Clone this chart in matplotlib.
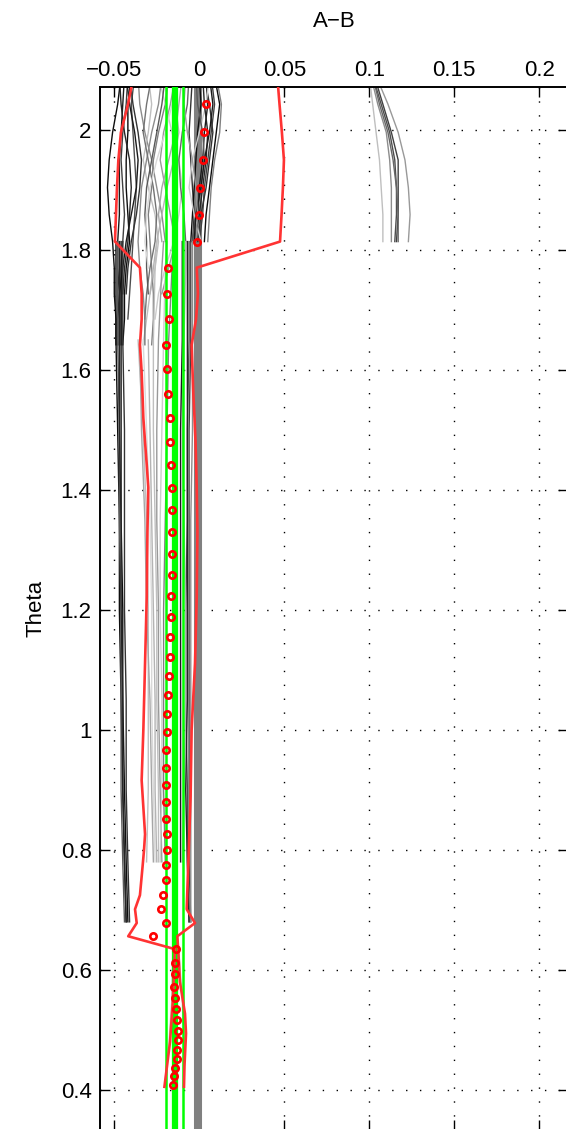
import numpy as np
import matplotlib.pyplot as plt

plt.rcParams["font.family"] = ["Liberation Sans", "DejaVu Sans"]

# red circles, three theta ranges
dot_theta_top = [2.043, 1.996, 1.950, 1.904, 1.859, 1.814]
dot_x_top = [0.0038, 0.0026, 0.0022, 0.0006, -0.0004, -0.0012]

dot_theta_mid = [1.7705, 1.727, 1.6845, 1.642, 1.601, 1.560, 1.520, 1.480, 1.442, 1.404,
                 1.367, 1.330, 1.2933, 1.2583, 1.2228, 1.1883, 1.1545, 1.1217, 1.0895, 1.0578,
                 1.0262, 0.996, 0.966, 0.937, 0.908, 0.880, 0.852, 0.826, 0.800, 0.774,
                 0.7495, 0.7245, 0.701, 0.678, 0.656]
dot_x_mid = [-0.0182, -0.0190, -0.0178, -0.0198, -0.0188, -0.0182, -0.0174, -0.0172, -0.0168, -0.0159,
             -0.0159, -0.0161, -0.0161, -0.0162, -0.0167, -0.0168, -0.0171, -0.0174, -0.0178, -0.0182,
             -0.0188, -0.0190, -0.0194, -0.0196, -0.0196, -0.0196, -0.0194, -0.0192, -0.0188, -0.0198,
             -0.0196, -0.0212, -0.0227, -0.0198, -0.0274]

dot_theta_low = [0.6345, 0.6122, 0.5928, 0.5722, 0.5528, 0.5345, 0.5167, 0.4988, 0.4822, 0.4662,
                 0.4512, 0.4362, 0.4222, 0.4083]
dot_x_low = [-0.0139, -0.0143, -0.0145, -0.0147, -0.0141, -0.0135, -0.0129, -0.0127, -0.0127, -0.0129,
             -0.0133, -0.0141, -0.0147, -0.0153]

# red envelope
env_theta_left = [2.085, 2.043, 1.996, 1.95, 1.904, 1.859, 1.814, 1.7705, 1.727, 1.6845,
                  1.642, 1.601, 1.56, 1.52, 1.48, 1.442, 1.404, 1.33, 1.2228, 1.111,
                  1.0, 0.916, 0.826, 0.8, 0.774, 0.7245, 0.701, 0.678, 0.656, 0.6345,
                  0.55, 0.48, 0.405]
env_x_left = [-0.0390, -0.0419, -0.0461, -0.0476, -0.0484, -0.0490, -0.0496, -0.0349, -0.0339, -0.0339,
              -0.0349, -0.0340, -0.0334, -0.0329, -0.0319, -0.0309, -0.0300, -0.0305, -0.0309, -0.0319,
              -0.0329, -0.0339, -0.0319, -0.0325, -0.0333, -0.0349, -0.0378, -0.0368, -0.0418, -0.0143,
              -0.0155, -0.0172, -0.0205]
env_theta_right = [2.085, 2.043, 1.996, 1.95, 1.904, 1.859, 1.814, 1.7705, 1.727, 1.6845,
                   1.642, 1.601, 1.56, 1.52, 1.48, 1.404, 1.33, 1.2228, 1.111, 1.0,
                   0.889, 0.774, 0.701, 0.678, 0.656, 0.6345, 0.58, 0.527, 0.494, 0.44,
                   0.405]
env_x_right = [0.0460, 0.0472, 0.0486, 0.0498, 0.0492, 0.0484, 0.0475, -0.0015, -0.0008, -0.0019,
               -0.0045, -0.0040, -0.0035, -0.0028, -0.0022, -0.0015, -0.0011, -0.0015, -0.0025, -0.0045,
               -0.0051, -0.0065, -0.0074, -0.0025, -0.0129, -0.0124, -0.0114, -0.0084, -0.0078, -0.0087,
               -0.0090]

# vertical reference lines
green_thin = [-0.0196, -0.0094]
green_thick = -0.0145
zero_ref = -0.0008

nan = np.nan

# ensemble runs, top theta range
top_theta = [2.09, 2.043, 1.996, 1.95, 1.904, 1.859, 1.814, 1.77, 1.727, 1.685, 1.642]
top_runs = [
    (0.05, [-0.046, -0.048, -0.051, -0.053, -0.054, -0.053, -0.051, -0.050, -0.050, -0.049, -0.049]),
    (0.10, [-0.044, -0.045, -0.046, -0.047, -0.047, -0.047, -0.048, -0.048, -0.047, -0.047, -0.047]),
    (0.25, [-0.042, -0.043, -0.045, -0.046, -0.045, -0.044, -0.045, -0.046, -0.046, -0.046, -0.046]),
    (0.05, [-0.040, -0.042, -0.042, -0.043, -0.043, -0.042, -0.041, -0.043, -0.044, -0.044, -0.045]),
    (0.30, [-0.038, -0.040, -0.039, -0.038, -0.037, -0.038, -0.039, -0.040, -0.041, -0.042, nan]),
    (0.15, [-0.047, -0.046, -0.044, -0.041, -0.040, -0.041, -0.042, -0.044, -0.045, nan, nan]),
    (0.10, [-0.043, -0.041, -0.038, -0.036, -0.037, -0.040, -0.043, -0.045, -0.047, -0.048, -0.048]),
    (0.20, [-0.041, -0.039, -0.036, -0.034, -0.035, -0.037, -0.040, -0.042, -0.043, nan, nan]),
    (0.55, [-0.036, -0.035, -0.032, -0.028, -0.025, -0.022, -0.020, nan, nan, nan, nan]),
    (0.75, [-0.030, -0.028, -0.030, -0.033, -0.030, -0.026, -0.024, -0.026, -0.029, -0.031, -0.033]),
    (0.55, [-0.022, -0.024, -0.028, -0.031, -0.034, -0.035, -0.036, -0.035, -0.033, -0.032, nan]),
    (0.50, [-0.018, -0.020, -0.024, -0.027, -0.028, -0.030, -0.029, -0.028, -0.027, -0.027, -0.028]),
    (0.80, [-0.024, -0.020, -0.016, -0.012, -0.010, -0.012, -0.015, -0.020, -0.024, -0.026, nan]),
    (0.60, [-0.014, -0.017, -0.021, -0.023, -0.020, -0.017, -0.014, -0.018, -0.022, nan, nan]),
    (0.65, [-0.010, -0.012, -0.014, -0.018, -0.022, -0.024, -0.022, nan, nan, nan, nan]),
    (0.45, [-0.028, -0.031, -0.033, -0.030, -0.027, -0.025, -0.026, -0.029, -0.031, -0.032, -0.032]),
    (0.70, [-0.016, -0.014, -0.012, -0.015, -0.019, -0.022, -0.025, -0.027, -0.029, nan, nan]),
    (0.35, [-0.020, -0.022, -0.025, -0.028, -0.031, -0.032, -0.031, -0.031, -0.030, nan, nan]),
    (0.85, [-0.012, -0.016, -0.020, -0.025, -0.029, -0.031, -0.032, -0.030, nan, nan, nan]),
    (0.40, [-0.006, -0.007, -0.010, -0.012, -0.011, -0.009, -0.008, nan, nan, nan, nan]),
    (0.20, [-0.004, -0.005, -0.006, -0.005, -0.004, -0.003, -0.004, nan, nan, nan, nan]),
    (0.05, [0.000, 0.001, -0.001, -0.002, -0.003, -0.004, -0.005, nan, nan, nan, nan]),
    (0.10, [0.004, 0.005, 0.003, 0.002, 0.000, -0.001, -0.002, nan, nan, nan, nan]),
    (0.25, [0.007, 0.009, 0.007, 0.005, 0.003, 0.002, 0.000, nan, nan, nan, nan]),
    (0.05, [0.009, 0.012, 0.010, 0.008, 0.006, 0.004, 0.003, nan, nan, nan, nan]),
    (0.50, [0.010, 0.013, 0.012, 0.009, 0.007, 0.006, 0.005, nan, nan, nan, nan]),
    (0.20, [0.003, 0.006, 0.008, 0.006, 0.004, 0.001, -0.001, nan, nan, nan, nan]),
    (0.80, [0.006, 0.004, 0.000, -0.004, -0.006, -0.003, 0.001, nan, nan, nan, nan]),
    (0.15, [0.002, 0.003, 0.005, 0.004, 0.002, 0.000, -0.003, nan, nan, nan, nan]),
    (0.35, [-0.002, -0.001, 0.002, 0.003, 0.001, -0.002, -0.004, nan, nan, nan, nan]),
    (0.10, [0.006, 0.008, 0.006, 0.003, 0.001, -0.002, -0.003, nan, nan, nan, nan]),
    (0.60, [-0.008, -0.009, -0.007, -0.004, -0.002, -0.001, -0.002, nan, nan, nan, nan]),
]

# ensemble runs at the top right
right_theta = [2.09, 2.043, 1.996, 1.95, 1.904, 1.859, 1.814]
right_runs = [
    (0.75, [0.100, 0.102, 0.104, 0.106, 0.107, 0.108, 0.108]),
    (0.55, [0.101, 0.105, 0.110, 0.112, 0.113, 0.113, 0.113]),
    (0.30, [0.102, 0.107, 0.112, 0.115, 0.116, 0.116, 0.115]),
    (0.25, [0.103, 0.108, 0.113, 0.117, 0.117, 0.117, 0.116]),
    (0.40, [0.102, 0.106, 0.111, 0.114, 0.116, 0.117, 0.117]),
    (0.60, [0.104, 0.111, 0.117, 0.121, 0.123, 0.124, 0.123]),
]

# ensemble runs, middle theta range
mid_theta = [1.814, 1.77, 1.65, 1.5, 1.35, 1.2, 1.05, 0.9, 0.78, 0.68]
mid_runs = [
    (0.05, [-0.049, -0.049, -0.049, -0.048, -0.047, -0.047, -0.046, -0.045, -0.044, -0.043]),
    (0.05, [-0.046, -0.046, -0.046, -0.046, -0.046, -0.045, -0.045, -0.044, -0.043, -0.042]),
    (0.20, [-0.045, -0.045, -0.045, -0.044, -0.044, -0.044, -0.043, -0.043, -0.042, -0.041]),
    (0.35, [-0.048, -0.048, -0.048, -0.047, -0.047, -0.046, -0.046, -0.046, -0.045, -0.044]),
    (0.15, [-0.047, -0.047, -0.047, -0.047, -0.046, -0.046, -0.045, -0.045, -0.044, -0.043]),
    (0.75, [nan, nan, -0.036, -0.033, -0.031, -0.030, -0.030, -0.030, -0.031, nan]),
    (0.65, [nan, nan, -0.035, -0.034, -0.032, -0.031, -0.029, -0.028, -0.027, nan]),
    (0.85, [nan, nan, -0.033, -0.031, -0.029, -0.028, -0.028, -0.027, -0.026, nan]),
    (0.70, [nan, nan, -0.030, -0.029, -0.028, -0.027, -0.026, -0.026, -0.025, nan]),
    (0.60, [-0.021, -0.022, -0.024, -0.025, -0.025, -0.024, -0.024, -0.023, -0.022, nan]),
    (0.80, [-0.019, -0.020, -0.021, -0.022, -0.023, -0.023, -0.022, -0.022, -0.023, nan]),
    (0.50, [-0.015, -0.016, -0.018, -0.019, -0.020, -0.021, -0.021, -0.021, -0.020, nan]),
    (0.75, [-0.025, -0.026, -0.027, -0.027, -0.026, -0.025, -0.025, -0.024, -0.024, nan]),
    (0.10, [-0.010, -0.010, -0.010, -0.011, -0.011, -0.011, -0.011, -0.011, -0.011, nan]),
    (0.30, [-0.006, -0.006, -0.006, -0.007, -0.007, -0.008, -0.008, -0.007, -0.007, -0.006]),
    (0.25, [-0.005, -0.005, -0.005, -0.006, -0.006, -0.006, -0.006, -0.006, -0.006, -0.005]),
    (0.55, [-0.004, -0.004, -0.004, -0.004, -0.005, -0.005, -0.005, -0.005, -0.005, -0.005]),
    (0.70, [-0.008, -0.008, -0.009, -0.010, -0.009, -0.008, -0.008, -0.009, -0.010, nan]),
    (0.15, [-0.007, -0.007, -0.007, -0.007, -0.007, -0.007, -0.007, -0.008, -0.007, -0.006]),
]

# ensemble runs, lower theta range
low_theta = [0.63, 0.55, 0.47, 0.405]
low_runs = [
    (0.80, [-0.0155, -0.0162, -0.0180, -0.0205]),
    (0.75, [-0.0120, -0.0100, -0.0090, -0.0092]),
]

fig = plt.figure(figsize=(5.66, 11.29), dpi=100)
ax = fig.add_axes([100 / 566, -1 / 1129, 468 / 566, 1043 / 1129])

ax.axvline(zero_ref, color="#808080", lw=5.8, zorder=1)

for runs, th in [(top_runs, top_theta), (right_runs, right_theta),
                 (mid_runs, mid_theta), (low_runs, low_theta)]:
    for g, xs in runs:
        ax.plot(xs, th, color=str(g), lw=1.0, zorder=2)

for gx in green_thin:
    ax.axvline(gx, color="#00ff00", lw=1.8, zorder=3)
ax.axvline(green_thick, color="#00ff00", lw=4.5, zorder=3)

ax.plot(env_x_left, env_theta_left, color="#ff3333", lw=1.9, zorder=4)
ax.plot(env_x_right, env_theta_right, color="#ff3333", lw=1.9, zorder=4)

for xs, th in [(dot_x_top, dot_theta_top), (dot_x_mid, dot_theta_mid), (dot_x_low, dot_theta_low)]:
    ax.plot(xs, th, "o", ms=4.6, mew=1.9, mec="#ff0000", mfc="none", zorder=5)

ax.set_xlim(-0.0584, 0.2169)
ax.set_ylim(0.333, 2.0717)
ax.set_xticks([-0.05, 0, 0.05, 0.1, 0.15, 0.2])
ax.set_xticklabels(["\u22120.05", "0", "0.05", "0.1", "0.15", "0.2"])
ax.set_yticks([0.4, 0.6, 0.8, 1.0, 1.2, 1.4, 1.6, 1.8, 2.0])
ax.set_yticklabels(["0.4", "0.6", "0.8", "1", "1.2", "1.4", "1.6", "1.8", "2"])
ax.tick_params(direction="in", length=7, width=1, labelsize=16,
               top=True, bottom=True, left=True, right=True,
               labeltop=True, labelbottom=False)
ax.tick_params(axis="x", pad=4)
ax.tick_params(axis="y", pad=6)
ax.set_axisbelow(True)
ax.grid(True, color="black", lw=1.0, linestyle=(0, (1, 9)))
for s in ax.spines.values():
    s.set_linewidth(1.4)

ax.xaxis.set_label_position("top")
ax.set_xlabel("A\u2212B", fontsize=16)
ax.xaxis.set_label_coords(0.5, 1.0575)
ax.set_ylabel("Theta", fontsize=16)
ax.yaxis.set_label_coords(-0.115, 0.5)

fig.savefig("out.png", dpi=100)
